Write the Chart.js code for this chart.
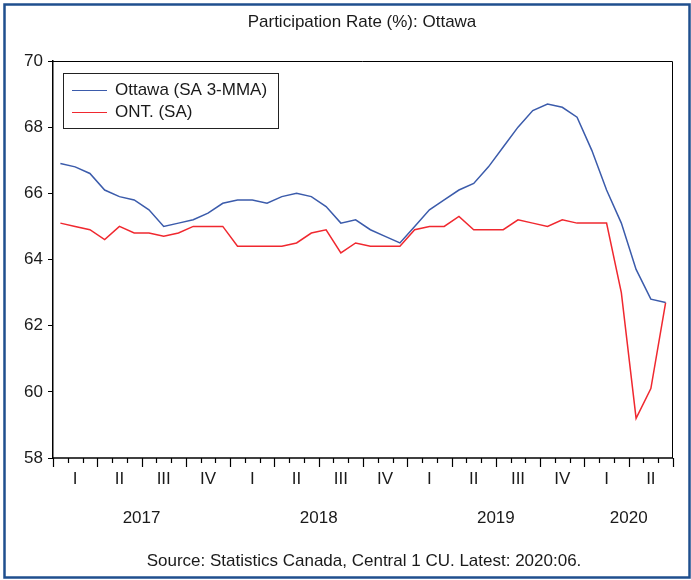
<!DOCTYPE html>
<html>
<head>
<meta charset="utf-8">
<script src="https://cdn.jsdelivr.net/npm/chart.js@4.4.1/dist/chart.umd.min.js"></script>
<style>
  html, body { margin: 0; padding: 0; background: #fff; }
  #wrap { position: relative; width: 691px; height: 580px; }
</style>
</head>
<body>
<div id="wrap"><canvas id="chart" width="691" height="580"></canvas></div>
<script>
/* ─── Data: monthly, 2017:01 – 2020:06 ─── */
const years        = ['2017', '2018', '2019', '2020'];
const quarterNames = ['I', 'II', 'III', 'IV'];
const yTicks       = [58, 60, 62, 64, 66, 68, 70];

const ottawa = [
  66.9, 66.8, 66.6, 66.1, 65.9, 65.8, 65.5, 65.0, 65.1, 65.2, 65.4, 65.7,
  65.8, 65.8, 65.7, 65.9, 66.0, 65.9, 65.6, 65.1, 65.2, 64.9, 64.7, 64.5,
  65.0, 65.5, 65.8, 66.1, 66.3, 66.8, 67.4, 68.0, 68.5, 68.7, 68.6, 68.3,
  67.3, 66.1, 65.1, 63.7, 62.8, 62.7,
];
const ontario = [
  65.1, 65.0, 64.9, 64.6, 65.0, 64.8, 64.8, 64.7, 64.8, 65.0, 65.0, 65.0,
  64.4, 64.4, 64.4, 64.4, 64.5, 64.8, 64.9, 64.2, 64.5, 64.4, 64.4, 64.4,
  64.9, 65.0, 65.0, 65.3, 64.9, 64.9, 64.9, 65.2, 65.1, 65.0, 65.2, 65.1,
  65.1, 65.1, 63.0, 59.2, 60.1, 62.7,
];

const SERIES = [
  { label: 'Ottawa (SA 3-MMA)', data: ottawa,  color: '#3b5bab' },
  { label: 'ONT. (SA)',         data: ontario, color: '#f0282f' },
];

const FONT = "'Liberation Sans', Arial, sans-serif";
const INK  = '#1a1a1a';

/* ─── Axis, legend, titles and frame (EViews style) ─── */
const decorPlugin = {
  id: 'decor',
  afterDraw(chart) {
    const { ctx, chartArea: a, scales: { x } } = chart;
    const nMonths = ottawa.length;
    ctx.save();

    // plot frame: top + right; bottom axis
    ctx.strokeStyle = '#000';
    ctx.lineWidth = 1;
    ctx.beginPath();
    ctx.moveTo(a.left, a.top + 0.5);
    ctx.lineTo(a.right - 0.5, a.top + 0.5);
    ctx.lineTo(a.right - 0.5, a.bottom);
    ctx.stroke();
    ctx.lineWidth = 1.5;
    ctx.beginPath();
    ctx.moveTo(a.left, a.bottom);
    ctx.lineTo(a.right, a.bottom);
    ctx.stroke();

    // month ticks, longer at quarter boundaries
    ctx.lineWidth = 1.2;
    for (let i = 0; i <= nMonths; i++) {
      const px = Math.round(x.getPixelForValue(i)) + 0.5;
      const len = i % 3 === 0 ? 9 : 5;
      ctx.beginPath();
      ctx.moveTo(px, a.bottom);
      ctx.lineTo(px, a.bottom + len);
      ctx.stroke();
    }

    // quarter + year labels
    ctx.fillStyle = INK;
    ctx.textAlign = 'center';
    ctx.textBaseline = 'middle';
    ctx.font = `17px ${FONT}`;
    for (let q = 0; q * 3 < nMonths; q++) {
      ctx.fillText(quarterNames[q % 4], x.getPixelForValue(q * 3 + 1.5), a.bottom + 21);
    }
    years.forEach((y, k) => {
      const start = k * 12;
      const end = Math.min(start + 12, nMonths);
      ctx.fillText(y, x.getPixelForValue((start + end) / 2), a.bottom + 60);
    });

    // title and source
    ctx.fillText('Participation Rate (%): Ottawa', 362, 22);
    ctx.fillText('Source: Statistics Canada, Central 1 CU. Latest: 2020:06.', 364, 561);

    // legend box
    const lx = a.left + 10, ly = a.top + 12, lw = 215, lh = 55;
    ctx.fillStyle = '#fff';
    ctx.fillRect(lx, ly, lw, lh);
    ctx.strokeStyle = '#222';
    ctx.lineWidth = 1;
    ctx.strokeRect(lx + 0.5, ly + 0.5, lw, lh);
    ctx.textAlign = 'left';
    SERIES.forEach((s, i) => {
      const yy = ly + 17 + i * 22;
      ctx.strokeStyle = s.color;
      ctx.lineWidth = 1.2;
      ctx.beginPath();
      ctx.moveTo(lx + 9, yy + 0.5);
      ctx.lineTo(lx + 44, yy + 0.5);
      ctx.stroke();
      ctx.fillStyle = INK;
      ctx.fillText(s.label, lx + 52, yy);
    });

    // outer blue frame
    ctx.strokeStyle = '#1f4f8e';
    ctx.lineWidth = 2.5;
    ctx.strokeRect(4.5, 4.5, 685, 573);
    ctx.restore();
  },
};

new Chart(document.getElementById('chart'), {
  type: 'line',
  data: {
    datasets: SERIES.map(s => ({
      label: s.label,
      data: s.data.map((v, i) => ({ x: i + 0.5, y: v })),
      borderColor: s.color,
      borderWidth: 1.5,
      pointRadius: 0,
      tension: 0,
      fill: false,
    })),
  },
  options: {
    responsive: false,
    animation: false,
    layout: { padding: { top: 61, right: 18, bottom: 122, left: 0 } },
    plugins: {
      legend: { display: false },
      tooltip: { enabled: false },
    },
    scales: {
      x: {
        type: 'linear',
        min: 0,
        max: ottawa.length,
        display: false,
      },
      y: {
        min: yTicks[0],
        max: yTicks[yTicks.length - 1],
        afterBuildTicks: scale => { scale.ticks = yTicks.map(v => ({ value: v })); },
        afterFit: scale => { scale.width = 53; },
        border: { display: true, color: '#000', width: 1.5 },
        grid: { drawOnChartArea: false, drawTicks: true, tickLength: 5, tickWidth: 1, tickColor: '#000' },
        ticks: { color: INK, padding: 5, font: { family: FONT, size: 17 } },
      },
    },
  },
  plugins: [decorPlugin],
});
</script>
</body>
</html>
